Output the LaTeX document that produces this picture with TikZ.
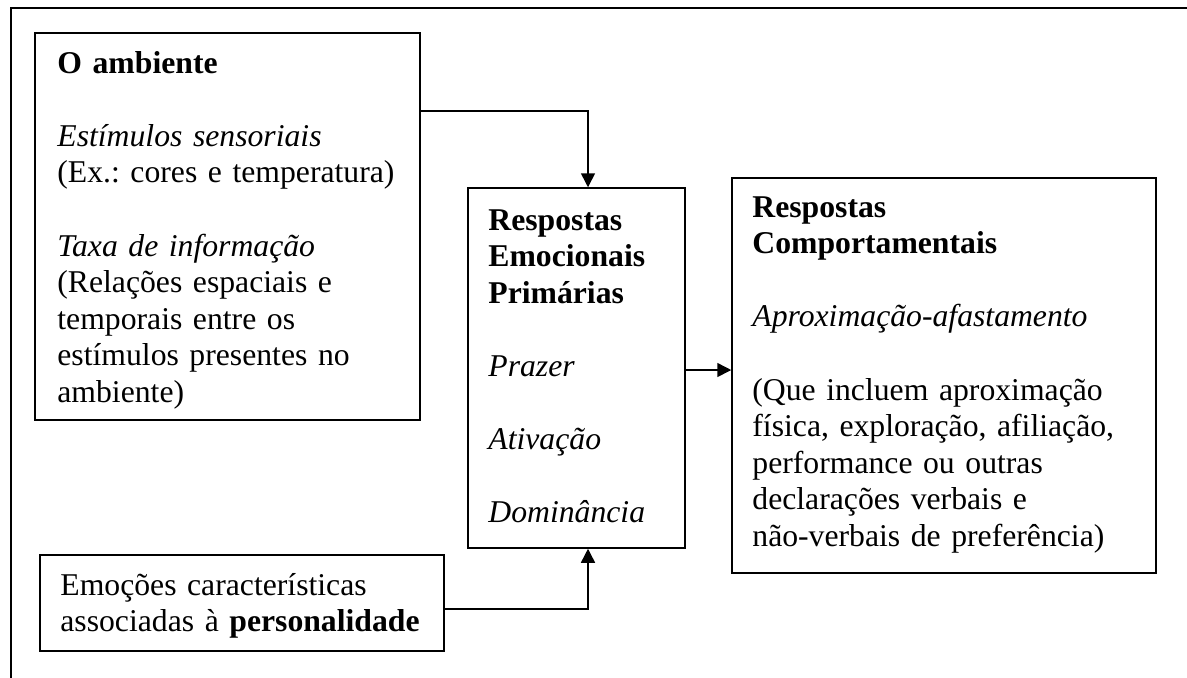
\documentclass[tikz,border=0pt]{standalone}
\usepackage{fontspec}
\setmainfont{Liberation Serif}
\usetikzlibrary{arrows.meta}
\frenchspacing
\begin{document}
\begin{tikzpicture}[x=0.5pt,y=-0.5pt,
  box/.style={draw=black,line width=0.75pt,inner sep=0pt,rectangle},
  txt/.style={anchor=base west,inner sep=0pt,text width=215pt,align=left,
    font=\fontsize{15.85pt}{18.3pt}\selectfont},
  arr/.style={line width=0.75pt,-{Triangle[length=7pt,width=7pt]}},
  frame/.style={line width=1pt}]
\useasboundingbox (0,0) rectangle (1187,677);
% outer frame (top and left edges)
\coordinate (fbl) at (11,680);
\coordinate (ftl) at (11,8);
\coordinate (ftr) at (1190,8);
\draw[frame] (fbl) -- (ftl) -- (ftr);
% boxes
\node[box,minimum width=192.5pt,minimum height=193.5pt] (box1) at (227.5,226.5) {};
\node[box,minimum width=108.5pt,minimum height=180pt] (box2) at (576.5,368) {};
\node[box,minimum width=212pt,minimum height=197.5pt] (box3) at (944,375.5) {};
\node[box,minimum width=202pt,minimum height=48pt] (box4) at (242,603) {};
% texts
\node[txt] (t1) at (57,73) {\textbf{O ambiente}\\[18.3pt]
\textit{Estímulos sensoriais}\\
(Ex.: cores e temperatura)\\[18.3pt]
\textit{Taxa de informação}\\
(Relações espaciais e\\
temporais entre os\\
estímulos presentes no\\
ambiente)};
\node[txt] (t2) at (488,230) {\textbf{Respostas}\\
\textbf{Emocionais}\\
\textbf{Primárias}\\[18.3pt]
\textit{Prazer}\\[18.3pt]
\textit{Ativação}\\[18.3pt]
\textit{Dominância}};
\node[txt] (t3) at (752,217) {\textbf{Respostas}\\
\textbf{Comportamentais}\\[18.3pt]
\textit{Aproximação-afastamento}\\[18.3pt]
(Que incluem aproximação\\
física, exploração, afiliação,\\
performance ou outras\\
declarações verbais e\\
não-verbais de preferência)};
\node[txt] (t4) at (60,595) {Emoções características\\
associadas à \textbf{personalidade}};
% connectors
\coordinate (a1) at (588,111);
\coordinate (a2) at (0,370);
\coordinate (a3) at (0,609);
\draw[arr] (box1.east |- a1) -| (box2.north -| a1);
\draw[arr] (box2.east |- a2) -- (box3.west |- a2);
\draw[arr] (box4.east |- a3) -| (box2.south -| a1);
\end{tikzpicture}
\end{document}
